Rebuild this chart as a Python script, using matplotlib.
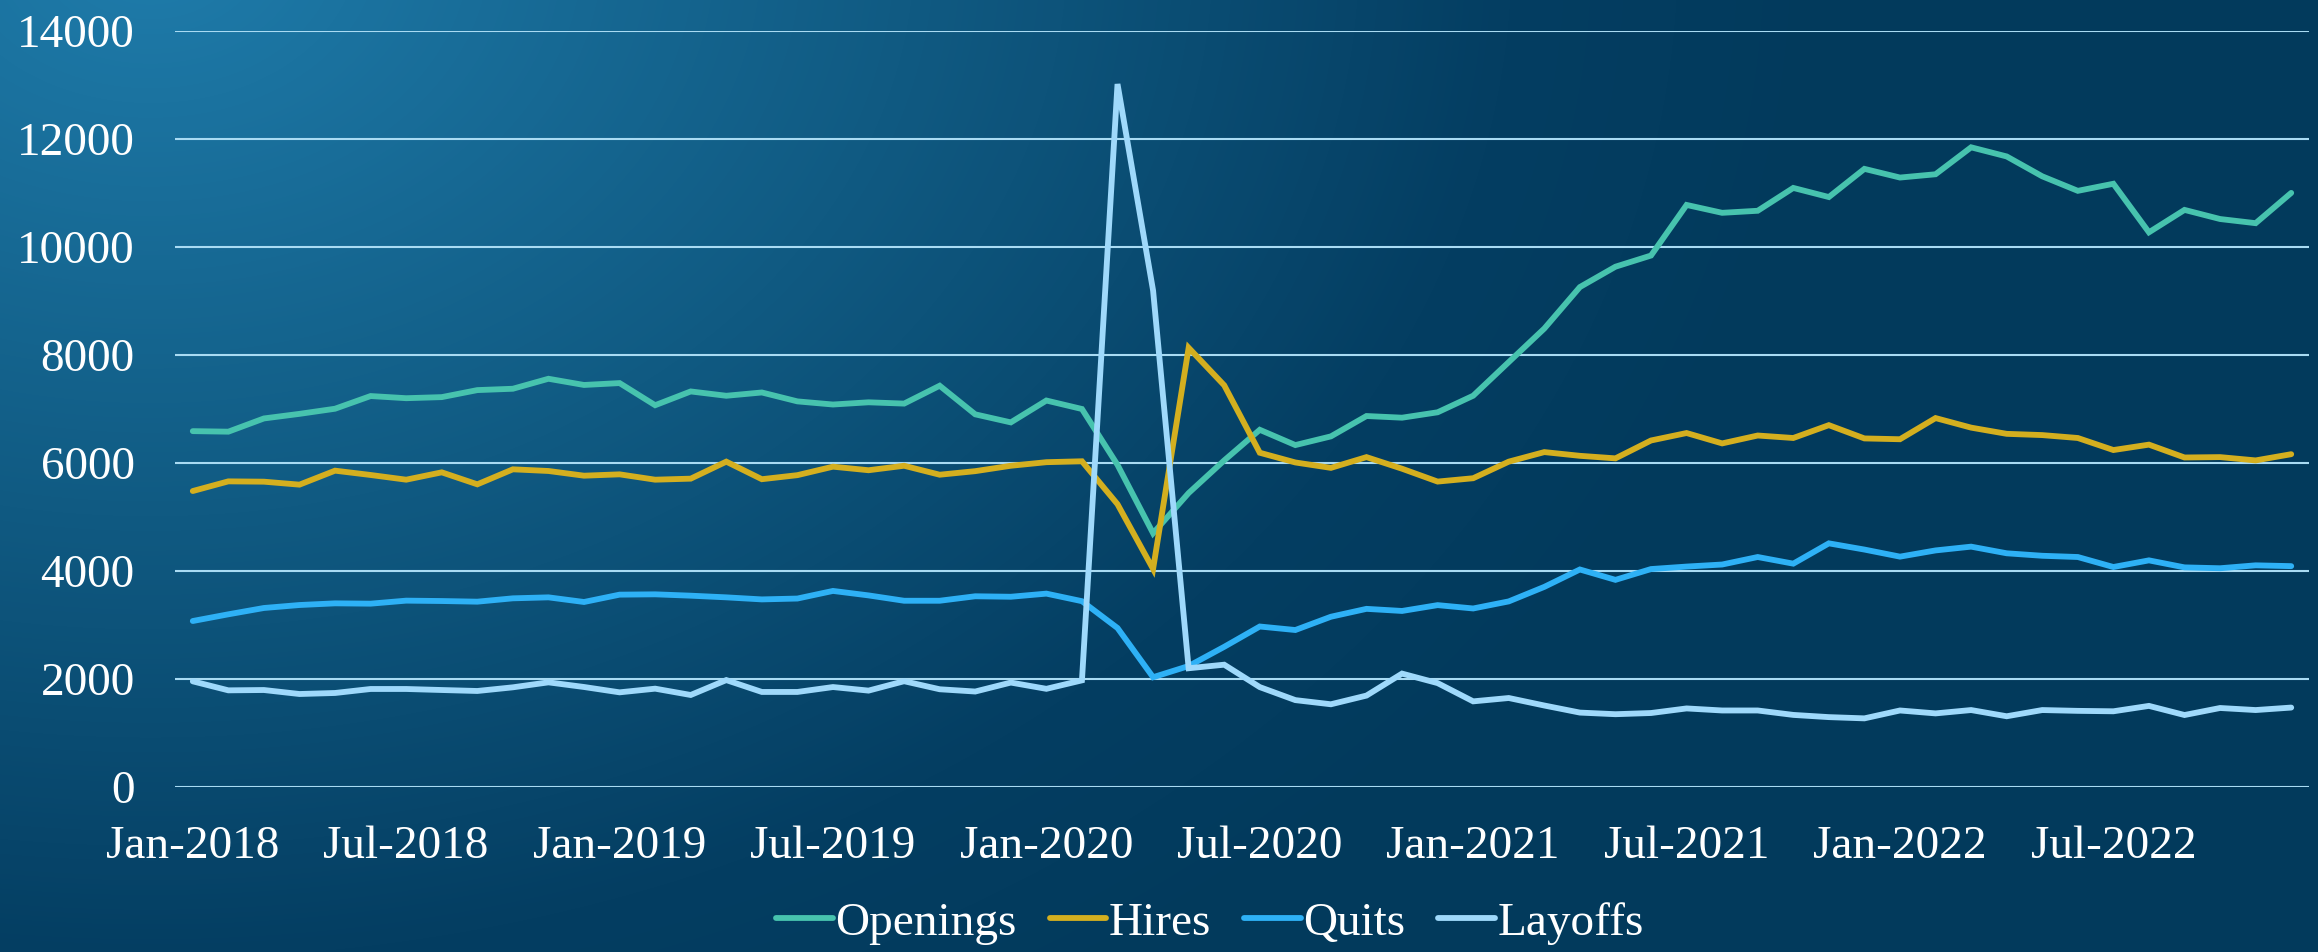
import numpy as np
import matplotlib
matplotlib.use("Agg")
import matplotlib.pyplot as plt
from matplotlib.colors import LinearSegmentedColormap

# JOLTS monthly levels (thousands), Jan-2018 .. Dec-2022
months = [f"{m}-{y}" for y in range(2018, 2023)
          for m in ["Jan", "Feb", "Mar", "Apr", "May", "Jun",
                    "Jul", "Aug", "Sep", "Oct", "Nov", "Dec"]]

openings = [6590, 6580, 6825, 6910, 7005, 7240, 7200, 7220, 7350, 7375, 7560, 7445,
            7480, 7070, 7325, 7245, 7306, 7141, 7083, 7124, 7100, 7431, 6901, 6752,
            7157, 7000, 5965, 4699, 5444, 6048, 6615, 6332, 6493, 6870, 6839, 6939,
            7246, 7869, 8490, 9258, 9635, 9842, 10779, 10633, 10671, 11094, 10925, 11447,
            11286, 11347, 11846, 11677, 11309, 11040, 11171, 10272, 10687, 10518, 10441, 11002]

hires = [5481, 5660, 5654, 5599, 5858, 5778, 5691, 5827, 5605, 5883, 5852, 5765,
         5790, 5691, 5710, 6025, 5700, 5775, 5932, 5866, 5949, 5783, 5849, 5949,
         6015, 6032, 5237, 4037, 8134, 7439, 6190, 6010, 5910, 6109, 5894, 5656,
         5718, 6025, 6202, 6133, 6086, 6417, 6555, 6363, 6509, 6463, 6701, 6455,
         6440, 6832, 6655, 6540, 6517, 6463, 6240, 6340, 6102, 6109, 6048, 6163]

quits = [3074, 3198, 3315, 3370, 3401, 3395, 3451, 3444, 3432, 3494, 3512, 3426,
         3562, 3568, 3543, 3512, 3474, 3490, 3631, 3548, 3449, 3449, 3532, 3523,
         3581, 3441, 2944, 2033, 2240, 2596, 2972, 2907, 3153, 3299, 3260, 3368,
         3306, 3437, 3706, 4028, 3836, 4036, 4082, 4120, 4259, 4136, 4512, 4397,
         4266, 4381, 4451, 4328, 4282, 4259, 4074, 4197, 4067, 4051, 4105, 4090]

layoffs = [1957, 1790, 1796, 1722, 1741, 1815, 1815, 1796, 1778, 1846, 1938, 1852,
           1753, 1821, 1704, 1980, 1760, 1760, 1851, 1785, 1959, 1810, 1768, 1934,
           1818, 1975, 13018, 9194, 2199, 2265, 1850, 1609, 1532, 1693, 2100, 1924,
           1586, 1648, 1509, 1378, 1348, 1370, 1455, 1417, 1417, 1335, 1294, 1271,
           1417, 1363, 1425, 1310, 1425, 1410, 1402, 1502, 1333, 1463, 1425, 1471]

series = [("Openings", openings, "#47c3ae"),
          ("Hires", hires, "#d4af1f"),
          ("Quits", quits, "#2eb1f6"),
          ("Layoffs", layoffs, "#9fd9fb")]

plt.rcParams["font.family"] = ["Liberation Serif", "DejaVu Serif"]

W, H, DPI = 2318, 952, 100
fig = plt.figure(figsize=(W / DPI, H / DPI), dpi=DPI)

# background gradient, light blue top-left to navy
bg = fig.add_axes([0, 0, 1, 1], zorder=-1)
yy, xx = np.mgrid[0:H, 0:W]
dist = np.sqrt((xx - 150) ** 2 + ((yy + 50) * 1.35) ** 2)
t = np.clip(dist / 1700.0, 0, 1)
cmap = LinearSegmentedColormap.from_list(
    "bg", [(0, "#1f7cab"), (0.45, "#105a82"), (0.8, "#043e62"), (1, "#023a5c")])
bg.imshow(t, cmap=cmap, aspect="auto", interpolation="bilinear", vmin=0, vmax=1)
bg.axis("off")

ax = fig.add_axes([175 / W, 1 - 787 / H, (2309 - 175) / W, (787 - 31) / H])
ax.patch.set_alpha(0)

x = np.arange(len(months))
for name, vals, col in series:
    ax.plot(x, vals, color=col, lw=4.2, label=name, solid_joinstyle="miter",
            solid_capstyle="round")

ax.set_xlim(-0.5, len(months) - 0.5)
ax.set_ylim(0, 14000)
ax.set_yticks(np.arange(0, 14001, 2000))
ax.set_xticks(x[::6])
ax.set_xticklabels(months[::6])
ax.grid(axis="y", color="#a9dbf3", lw=1.5)
ax.set_axisbelow(True)
for s in ax.spines.values():
    s.set_visible(False)
ax.tick_params(length=0, colors="white", labelsize=34)
ax.tick_params(axis="y", pad=29)
ax.tick_params(axis="x", pad=28)

leg = ax.legend(loc="center", bbox_to_anchor=(1210 / W, 29 / H),
                bbox_transform=fig.transFigure, ncol=4, frameon=False,
                fontsize=34, labelcolor="white", handlelength=1.2,
                handletextpad=0.05, columnspacing=0.7)

fig.savefig("out.png", dpi=DPI)
